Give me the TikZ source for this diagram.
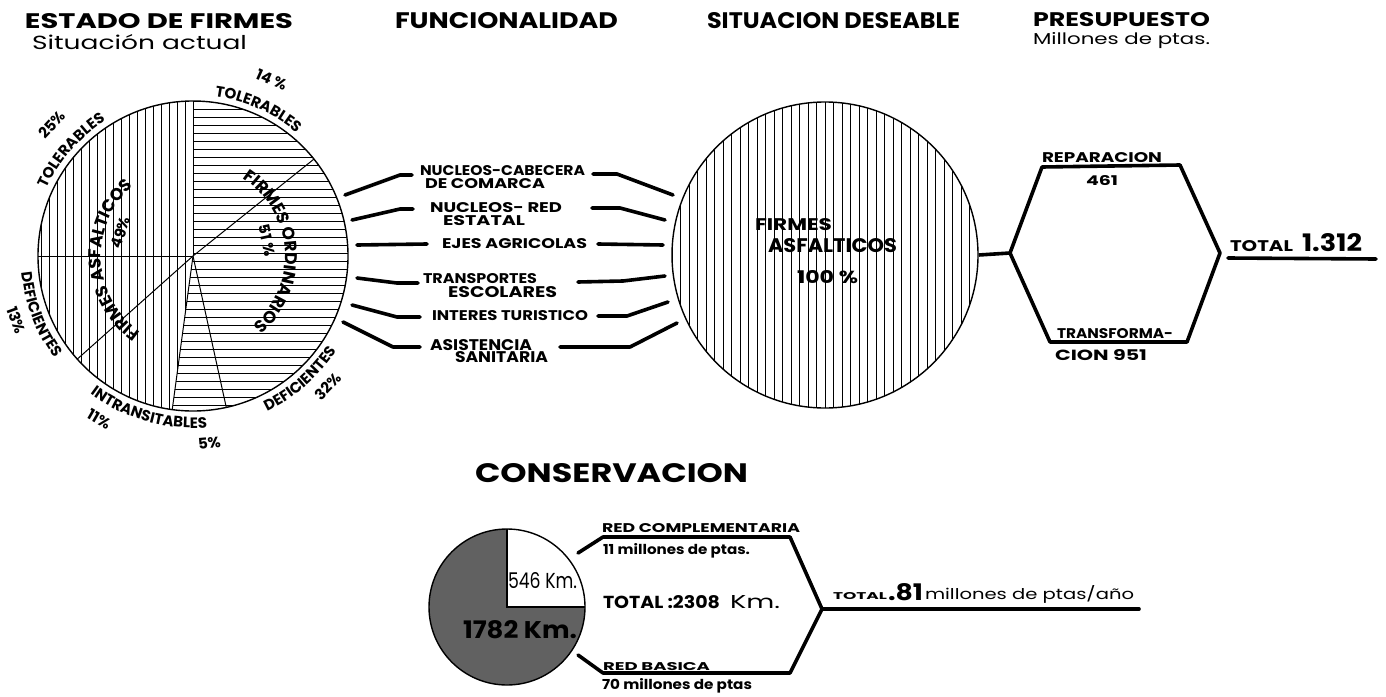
\documentclass[tikz,border=0pt]{standalone}
\usepackage{fontspec}
\setmainfont{Poppins}
\usepackage{graphicx}
\usetikzlibrary{decorations.text}
\newcommand{\fb}[3]{\resizebox{#1pt}{#2pt}{#3}}
\newcommand{\pfA}{\fontsize{15}{15}\selectfont\bfseries}
\newcommand{\pfB}{\fontsize{17}{17}\selectfont\bfseries}
\begin{document}
\begin{tikzpicture}[x=1pt,y=1pt,
  lbl/.style={anchor=base west, inner sep=0pt, outer sep=0pt},
  conn/.style={line width=3.6pt, line cap=round, line join=round},
  hatchln/.style={line width=0.8pt},
  divln/.style={line width=1pt},
  rim/.style={line width=1.4pt},
  pct/.style={inner sep=0pt, font=\pfA},
  arclbl/.style={decorate, decoration={text along path, text align=center, text={#1}}}
]
\useasboundingbox (0,0) rectangle (1386,-696);
\fill[white] (0,0) rectangle (1386,-696);

% ---------------- headers
\node[lbl] (h1) at (25,-28) {\fb{268}{15}{\bfseries ESTADO DE FIRMES}};
\node[lbl] (h1b) at (32,-49) {\fb{215}{15}{Situación  actual}};
\node[lbl] (h2) at (395,-29) {\fb{223}{16}{\bfseries FUNCIONALIDAD}};
\node[lbl] (h3) at (707,-28) {\fb{253}{16}{\bfseries SITUACION DESEABLE}};
\node[lbl] (h4) at (1033,-27) {\fb{177}{14}{\bfseries PRESUPUESTO}};
\node[lbl] (h4b) at (1033,-44) {\fb{177}{12}{Millones de ptas.}};

% ---------------- left pie
\coordinate (pc) at (193,-256);
\begin{scope}
  \clip (pc) -- ([shift={(90:155)}]pc) arc[start angle=90,end angle=262.3,radius=155] -- cycle;
  \foreach \i in {0,...,20} \draw[hatchln] ({193-8*\i},-95) -- ({193-8*\i},-415);
\end{scope}
\begin{scope}
  \clip (pc) -- ([shift={(262.3:155)}]pc) arc[start angle=262.3,end angle=450,radius=155] -- cycle;
  \foreach \i in {0,...,39} \draw[hatchln] (160,{-101-8*\i}) -- (352,{-101-8*\i});
\end{scope}
\foreach \a in {90,180,221.7,262.3,282.4,38.7} \draw[divln] (pc) -- ([shift={(\a:155)}]pc);
\draw[rim] (pc) circle[radius=155];

% curved labels
\path[arclbl={|\pfB|FIRMES ORDINARIOS}] ([shift={(94:92)}]pc) arc[start angle=94,end angle=-86,radius=92];
\path[arclbl={|\pfB|FIRMES ASFALTICOS}] ([shift={(273:92)}]pc) arc[start angle=273,end angle=93,radius=92];
\path[arclbl={|\pfA|TOLERABLES}] ([shift={(126:161)}]pc) arc[start angle=126,end angle=6,radius=161];
\path[arclbl={|\pfA|TOLERABLES}] ([shift={(199:161)}]pc) arc[start angle=199,end angle=79,radius=161];
\path[arclbl={|\pfA|DEFICIENTES}] ([shift={(141:172)}]pc) arc[start angle=141,end angle=261,radius=172];
\path[arclbl={|\pfA|INTRANSITABLES}] ([shift={(194:172)}]pc) arc[start angle=194,end angle=314,radius=172];
\path[arclbl={|\pfA|DEFICIENTES}] ([shift={(251:172)}]pc) arc[start angle=251,end angle=371,radius=172];

\node[pct, rotate=-24] (p14) at ([shift={(66:193)}]pc) {14 \%};
\node[pct, rotate=47] (p25) at ([shift={(137:193)}]pc) {25\%};
\node[pct, rotate=-70] (p13) at ([shift={(200:188)}]pc) {13\%};
\node[pct, rotate=-30] (p11) at ([shift={(240:188)}]pc) {11\%};
\node[pct, rotate=5] (p5) at ([shift={(275:188)}]pc) {5\%};
\node[pct, rotate=46] (p32) at ([shift={(316:188)}]pc) {32\%};
\node[pct, rotate=-78] (p51) at ([shift={(12:76)}]pc) {51 \%};
\node[pct, rotate=72] (p49) at ([shift={(162:76)}]pc) {49\%};

% ---------------- funcionalidad labels
\node[lbl] (f1a) at (420,-175) {\fb{165}{10}{\bfseries NUCLEOS-CABECERA}};
\node[lbl] (f1b) at (425,-188) {\fb{120}{10}{\bfseries DE COMARCA}};
\node[lbl] (f2a) at (430,-212) {\fb{132}{10}{\bfseries NUCLEOS- RED}};
\node[lbl] (f2b) at (443,-225) {\fb{82}{10}{\bfseries ESTATAL}};
\node[lbl] (f3) at (442,-248) {\fb{145}{10}{\bfseries EJES AGRICOLAS}};
\node[lbl] (f4a) at (423,-283) {\fb{114}{10}{\bfseries TRANSPORTES}};
\node[lbl] (f4b) at (448,-297) {\fb{109}{11}{\bfseries ESCOLARES}};
\node[lbl] (f5) at (432,-320) {\fb{156}{10}{\bfseries INTERES TURISTICO}};
\node[lbl] (f6a) at (430,-350) {\fb{102}{11}{\bfseries ASISTENCIA}};
\node[lbl] (f6b) at (455,-362) {\fb{93}{11}{\bfseries SANITARIA}};

\draw[conn] (345,-195) -- (400,-175) -- (412,-175);
\draw[conn] (352,-220) -- (400,-209) -- (413,-209);
\draw[conn] (357,-245) -- (427,-244);
\draw[conn] (357,-278) -- (397,-283) -- (418,-283);
\draw[conn] (352,-305) -- (397,-317) -- (420,-317);
\draw[conn] (343,-322) -- (393,-347) -- (420,-347);
\draw[conn] (593,-174) -- (617,-174) -- (673,-195);
\draw[conn] (592,-208) -- (620,-208) -- (665,-220);
\draw[conn] (598,-244) -- (663,-245);
\draw[conn] (578,-282) -- (623,-281) -- (665,-276);
\draw[conn] (598,-316) -- (627,-316) -- (668,-302);
\draw[conn] (560,-347) -- (630,-347) -- (677,-323);

% ---------------- right circle
\begin{scope}
  \clip (825,-255) circle[radius=153];
  \foreach \i in {0,...,36} \draw[hatchln] ({672+8.5*\i},-100) -- ({672+8.5*\i},-410);
\end{scope}
\node[circle, draw, rim, minimum size=306pt, inner sep=0pt] (rc) at (825,-255) {};
\node[lbl] (r1) at (755,-230) {\fb{77}{12}{\bfseries FIRMES}};
\node[lbl] (r2) at (768,-252) {\fb{129}{14}{\bfseries ASFALTICOS}};
\node[lbl] (r3) at (797,-283) {\fb{61}{13}{\bfseries 100 \%}};

% ---------------- presupuesto hexagon
\coordinate (hL) at (1010,-253);
\coordinate (hTL) at (1042,-167);
\coordinate (hTR) at (1180,-165);
\coordinate (hR) at (1220,-253);
\coordinate (hBR) at (1187,-342);
\coordinate (hBL) at (1050,-342);
\draw[conn, line cap=butt] (rc.east) -- (hL);
\draw[conn] (hL) -- (hTL) -- (hTR) -- (hR) -- (hBR) -- (hBL) -- cycle;
\node[lbl] (x1) at (1042,-162) {\fb{120}{10}{\bfseries REPARACION}};
\node[lbl] (x2) at (1086,-185) {\fb{32}{10}{\bfseries 461}};
\node[lbl] (x3) at (1057,-338) {\fb{116}{10}{\bfseries TRANSFORMA-}};
\node[lbl] (x4) at (1055,-360) {\fb{92}{11}{\bfseries CION 951}};
\node[lbl] (x5) at (1230,-251) {\fb{63}{11}{\bfseries TOTAL}};
\node[lbl] (x6) at (1302,-251) {\fb{60}{18}{\bfseries 1.312}};
\coordinate (t1) at (1228,-258);
\coordinate (t2) at (1376,-259);
\draw[conn] (t1) -- (t2);

% ---------------- conservacion
\node[lbl] (cs) at (475,-482) {\fb{273}{19}{\bfseries CONSERVACION}};
\coordinate (bc) at (507,-607);
\fill[black!62] (bc) circle[radius=78];
\fill[white] (bc) -- ([shift={(0:78)}]bc) arc[start angle=0,end angle=90,radius=78] -- cycle;
\draw[rim] (bc) circle[radius=78];
\draw[rim] ([shift={(90:78)}]bc) -- (bc) -- ([shift={(0:78)}]bc);
\node[lbl] (k1) at (508,-588) {\fb{69}{16}{546 Km.}};
\node[lbl] (k2) at (463,-638) {\fb{114}{18}{\bfseries 1782 Km.}};

\coordinate (b1) at (578,-553);
\coordinate (b2) at (603,-537);
\coordinate (b3) at (790,-537);
\coordinate (bV) at (822,-609);
\coordinate (b4) at (790,-673);
\coordinate (b5) at (603,-673);
\coordinate (b6) at (578,-655);
\coordinate (bE) at (1139,-609);
\draw[conn] (b1) -- (b2) -- (b3) -- (bV) -- (b4) -- (b5) -- (b6);
\draw[conn] (bV) -- (bE);

\node[lbl] (m1) at (602,-532) {\fb{198}{9}{\bfseries RED COMPLEMENTARIA}};
\node[lbl] (m2) at (603,-554) {\fb{147}{11}{\bfseries 11 millones de ptas.}};
\node[lbl] (m3) at (603,-608) {\fb{117}{13}{\bfseries TOTAL :2308}};
\node[lbl] (m4) at (730,-608) {\fb{50}{13}{Km.}};
\node[lbl] (m5) at (603,-670) {\fb{107}{8}{\bfseries RED BASICA}};
\node[lbl] (m6) at (602,-689) {\fb{150}{11}{\bfseries 70 millones de ptas}};
\node[lbl] (n1) at (833,-599) {\fb{54}{7}{\bfseries TOTAL}};
\node[lbl] (n2) at (888,-600) {\fb{35}{17}{\bfseries .81}};
\node[lbl] (n3) at (925,-599) {\fb{209}{14}{millones de ptas/año}};
\end{tikzpicture}
\end{document}
